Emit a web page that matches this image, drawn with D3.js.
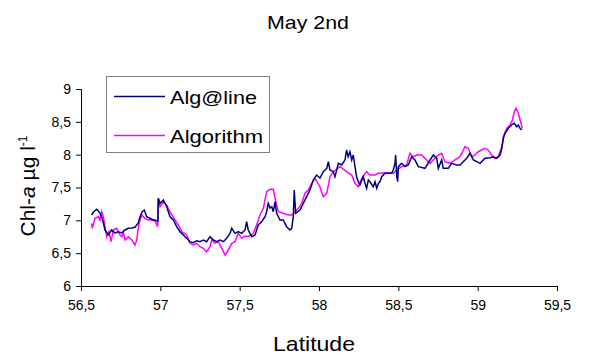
<!DOCTYPE html>
<html>
<head>
<meta charset="utf-8">
<script src="https://cdn.jsdelivr.net/npm/d3@7"></script>
<style>
  body { margin: 0; background: #fff; }
  svg { font-family: "Liberation Sans", Arial, sans-serif; }
</style>
</head>
<body>
<svg id="chart" width="615" height="354"></svg>
<script>
const title = 'May 2nd'
const seriesNames = ['Alg@line', 'Algorithm']
const seriesColors = ['#000080', '#ff00ff']
const xTicks = [56.5, 57, 57.5, 58, 58.5, 59, 59.5]
const yTicks = [6, 6.5, 7, 7.5, 8, 8.5, 9]

const latAlgline = [56.567, 56.579, 56.599, 56.609, 56.620, 56.630, 56.641, 56.651, 56.672, 56.693, 56.714, 56.735, 56.757, 56.777, 56.798, 56.820, 56.840, 56.861, 56.872, 56.886, 56.899, 56.914, 56.946, 56.977, 56.985, 56.987, 56.998, 57.019, 57.040, 57.061, 57.082, 57.103, 57.124, 57.145, 57.166, 57.187, 57.208, 57.229, 57.250, 57.271, 57.292, 57.313, 57.334, 57.355, 57.376, 57.397, 57.418, 57.439, 57.450, 57.471, 57.491, 57.513, 57.534, 57.544, 57.554, 57.576, 57.597, 57.617, 57.639, 57.660, 57.670, 57.680, 57.691, 57.702, 57.712, 57.723, 57.733, 57.754, 57.775, 57.796, 57.817, 57.828, 57.838, 57.844, 57.853, 57.880, 57.901, 57.922, 57.943, 57.964, 57.985, 58.006, 58.027, 58.049, 58.059, 58.069, 58.090, 58.101, 58.122, 58.143, 58.164, 58.174, 58.184, 58.195, 58.206, 58.216, 58.227, 58.237, 58.248, 58.258, 58.279, 58.290, 58.300, 58.311, 58.321, 58.342, 58.353, 58.364, 58.374, 58.384, 58.395, 58.416, 58.458, 58.468, 58.479, 58.483, 58.490, 58.496, 58.500, 58.521, 58.542, 58.563, 58.584, 58.605, 58.626, 58.668, 58.700, 58.721, 58.742, 58.752, 58.773, 58.783, 58.815, 58.836, 58.868, 58.889, 58.909, 58.931, 58.952, 58.973, 58.994, 59.015, 59.046, 59.078, 59.099, 59.120, 59.141, 59.152, 59.162, 59.172, 59.193, 59.214, 59.231, 59.246, 59.256, 59.267, 59.278]
const chlAlgline = [7.081, 7.127, 7.168, 7.142, 7.107, 7.055, 6.959, 6.853, 6.777, 6.853, 6.807, 6.827, 6.807, 6.853, 6.879, 6.883, 6.894, 6.959, 7.055, 7.131, 7.157, 7.055, 7.016, 6.994, 6.990, 7.335, 7.259, 7.310, 7.208, 7.055, 7.005, 6.903, 6.827, 6.777, 6.726, 6.675, 6.659, 6.690, 6.675, 6.700, 6.675, 6.751, 6.700, 6.675, 6.700, 6.675, 6.726, 6.802, 6.879, 6.802, 6.827, 6.802, 6.853, 6.979, 6.853, 6.751, 6.777, 6.929, 6.979, 7.055, 7.131, 7.259, 7.188, 7.208, 7.131, 7.284, 7.107, 7.005, 7.005, 6.903, 6.853, 6.879, 7.055, 7.462, 7.107, 7.157, 7.259, 7.360, 7.462, 7.614, 7.690, 7.645, 7.741, 7.792, 7.893, 7.767, 7.741, 7.664, 7.868, 7.843, 7.919, 8.071, 7.969, 8.045, 7.919, 7.995, 7.817, 7.664, 7.588, 7.538, 7.664, 7.564, 7.488, 7.614, 7.588, 7.512, 7.588, 7.488, 7.564, 7.588, 7.664, 7.716, 7.716, 7.766, 7.868, 7.995, 7.664, 7.588, 7.817, 7.868, 7.817, 7.843, 7.969, 7.919, 7.817, 7.792, 7.919, 7.995, 7.945, 7.792, 7.919, 7.792, 7.792, 7.868, 7.843, 7.843, 7.893, 7.945, 8.021, 7.919, 7.893, 7.868, 7.945, 7.954, 7.969, 7.945, 7.995, 8.097, 8.249, 8.325, 8.401, 8.452, 8.478, 8.426, 8.452, 8.401, 8.376]

const latAlgorithm = [56.567, 56.571, 56.588, 56.609, 56.620, 56.630, 56.641, 56.651, 56.662, 56.676, 56.689, 56.704, 56.725, 56.746, 56.757, 56.767, 56.777, 56.798, 56.820, 56.840, 56.851, 56.866, 56.883, 56.903, 56.924, 56.946, 56.966, 56.983, 56.987, 56.998, 57.019, 57.040, 57.061, 57.093, 57.113, 57.135, 57.166, 57.187, 57.208, 57.229, 57.250, 57.271, 57.292, 57.313, 57.324, 57.345, 57.366, 57.387, 57.408, 57.429, 57.450, 57.471, 57.491, 57.513, 57.534, 57.554, 57.586, 57.607, 57.628, 57.649, 57.670, 57.691, 57.712, 57.723, 57.743, 57.775, 57.806, 57.828, 57.849, 57.870, 57.891, 57.912, 57.933, 57.954, 57.975, 58.006, 58.027, 58.049, 58.069, 58.090, 58.132, 58.174, 58.206, 58.227, 58.248, 58.269, 58.300, 58.321, 58.353, 58.374, 58.416, 58.468, 58.490, 58.521, 58.553, 58.573, 58.594, 58.616, 58.647, 58.668, 58.700, 58.731, 58.752, 58.773, 58.794, 58.826, 58.857, 58.889, 58.920, 58.941, 58.962, 58.983, 59.004, 59.025, 59.046, 59.067, 59.088, 59.109, 59.130, 59.152, 59.162, 59.183, 59.204, 59.219, 59.231, 59.242, 59.256, 59.273, 59.281]
const chlAlgorithm = [6.955, 6.879, 7.031, 7.055, 7.005, 7.131, 7.055, 6.903, 6.751, 6.827, 6.675, 6.853, 6.879, 6.777, 6.751, 6.822, 6.700, 6.751, 6.700, 6.624, 6.700, 6.955, 7.081, 7.031, 7.005, 7.005, 6.994, 6.903, 7.335, 7.208, 7.279, 7.233, 7.127, 7.005, 6.929, 6.827, 6.777, 6.650, 6.624, 6.650, 6.598, 6.574, 6.522, 6.598, 6.700, 6.650, 6.675, 6.574, 6.472, 6.548, 6.650, 6.675, 6.802, 6.726, 6.761, 6.751, 6.802, 6.929, 7.081, 7.183, 7.436, 7.473, 7.473, 7.335, 7.131, 7.107, 7.081, 7.081, 7.131, 7.183, 7.259, 7.412, 7.462, 7.564, 7.640, 7.512, 7.360, 7.412, 7.664, 7.741, 7.817, 7.741, 7.690, 7.564, 7.512, 7.640, 7.741, 7.690, 7.690, 7.716, 7.725, 7.716, 7.766, 7.817, 7.843, 8.021, 7.969, 7.995, 7.995, 7.945, 7.868, 7.945, 7.995, 8.021, 7.893, 7.868, 7.919, 7.969, 8.121, 8.097, 7.969, 7.995, 8.045, 8.071, 8.097, 8.071, 7.995, 7.945, 7.969, 8.121, 8.274, 8.401, 8.452, 8.528, 8.654, 8.706, 8.630, 8.478, 8.401]

const margin = { left: 81, right: 58, top: 89, bottom: 68 }
const width = 615
const height = 354

const x = d3.scaleLinear().domain([56.5, 59.5]).range([margin.left, width - margin.right])
const y = d3.scaleLinear().domain([6, 9]).range([height - margin.bottom, margin.top])

const locale = d3.formatLocale({ decimal: ',', thousands: '.', grouping: [3], currency: ['', ''] })
const fmt = v => locale.format('~g')(v)

const svg = d3.select('#chart')

// axes
svg.append('g')
  .attr('transform', `translate(0,${y(6)})`)
  .call(d3.axisBottom(x).tickValues(xTicks).tickFormat(fmt).tickSize(5).tickPadding(9))
svg.append('g')
  .attr('transform', `translate(${x(56.5)},0)`)
  .call(d3.axisLeft(y).tickValues(yTicks).tickFormat(fmt).tickSize(5).tickPadding(5))

svg.selectAll('.domain, .tick line').attr('stroke', '#000').attr('stroke-width', 1)
svg.selectAll('.tick text').attr('font-size', 14).attr('fill', '#000')
  .attr('font-family', '"Liberation Sans", Arial, sans-serif')

// series
const line = d3.line().x(d => x(d[0])).y(d => y(d[1]))
const series = [
  d3.zip(latAlgline, chlAlgline),
  d3.zip(latAlgorithm, chlAlgorithm)
]
// magenta first so navy sits above it
svg.append('path').datum(series[1])
  .attr('fill', 'none').attr('stroke', seriesColors[1]).attr('stroke-width', 1.5)
  .attr('d', line)
svg.append('path').datum(series[0])
  .attr('fill', 'none').attr('stroke', seriesColors[0]).attr('stroke-width', 1.5)
  .attr('d', line)

// titles
svg.append('text')
  .attr('x', 308).attr('y', 29)
  .attr('text-anchor', 'middle')
  .attr('font-size', 19)
  .attr('textLength', 82).attr('lengthAdjust', 'spacingAndGlyphs')
  .text(title)

svg.append('text')
  .attr('x', 314).attr('y', 351)
  .attr('text-anchor', 'middle')
  .attr('font-size', 21)
  .attr('textLength', 82).attr('lengthAdjust', 'spacingAndGlyphs')
  .text('Latitude')

const ylab = svg.append('text')
  .attr('transform', 'translate(35,186) rotate(-90)')
  .attr('text-anchor', 'middle')
  .attr('font-size', 21)
ylab.append('tspan').text('Chl-')
ylab.append('tspan').attr('font-style', 'italic').text('a')
ylab.append('tspan').text('  µg l')
ylab.append('tspan').attr('font-size', 12).attr('dy', -8).text('-1')

// legend
const legend = svg.append('g')
legend.append('rect')
  .attr('x', 106.5).attr('y', 76.5).attr('width', 163).attr('height', 76)
  .attr('fill', '#fff').attr('stroke', '#808080').attr('stroke-width', 1)
const legendWidths = [87, 93]
seriesNames.forEach((name, i) => {
  const cy = 96.5 + i * 39
  legend.append('line')
    .attr('x1', 114).attr('x2', 165).attr('y1', cy).attr('y2', cy)
    .attr('stroke', seriesColors[i]).attr('stroke-width', 1.5)
  legend.append('text')
    .attr('x', 170).attr('y', cy + 7)
    .attr('font-size', 19)
    .attr('textLength', legendWidths[i]).attr('lengthAdjust', 'spacingAndGlyphs')
    .text(name)
})
</script>
</body>
</html>
